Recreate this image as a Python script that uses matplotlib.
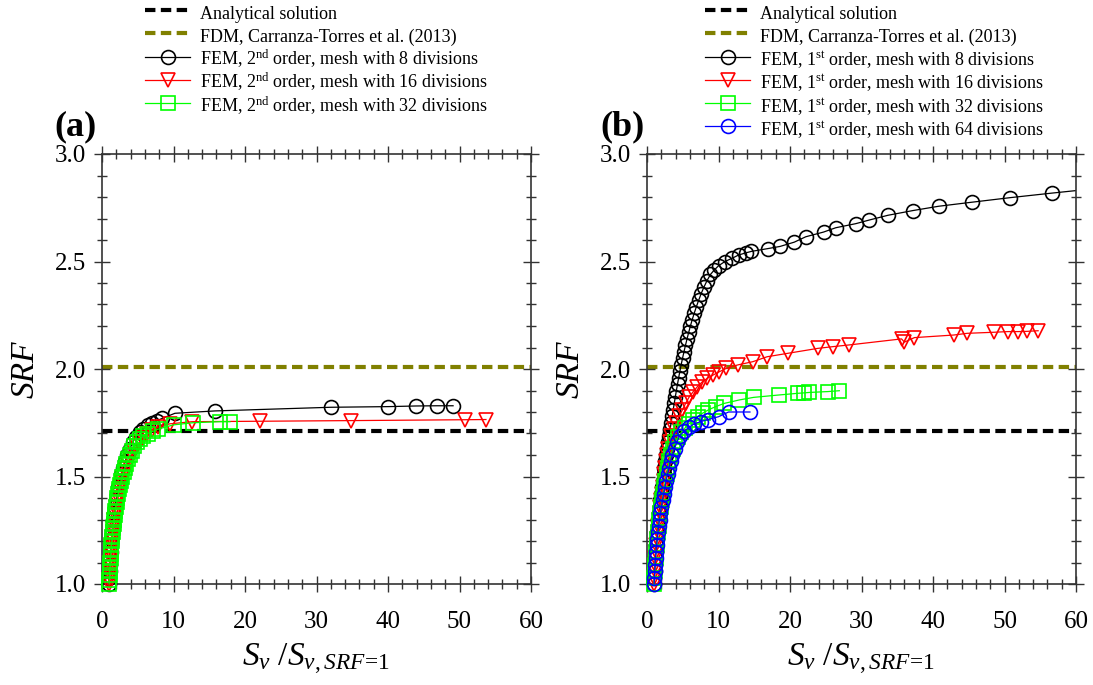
import matplotlib
matplotlib.use('Agg')
import matplotlib.pyplot as plt
from matplotlib.ticker import MultipleLocator, FormatStrFormatter
from matplotlib.lines import Line2D

plt.rcParams['font.family'] = ['Liberation Serif', 'DejaVu Serif']
plt.rcParams['mathtext.fontset'] = 'custom'
plt.rcParams['mathtext.rm'] = 'Liberation Serif'
plt.rcParams['mathtext.it'] = 'Liberation Serif:italic'
plt.rcParams['mathtext.bf'] = 'Liberation Serif:bold'

# reference values
analytical = 1.71
fdm = 2.01

# (a) FEM 2nd order
a8_x = [1.00, 1.03, 1.06, 1.10, 1.14, 1.19, 1.25, 1.32, 1.40, 1.49, 1.59, 1.70, 1.82, 1.96, 2.12,
        2.30, 2.50, 2.72, 2.97, 3.25, 3.56, 3.91, 4.30, 4.75, 5.25, 5.80, 6.40, 7.05, 7.70, 8.40,
        10.2, 15.8, 32.0, 40.0, 43.9, 46.8, 49.1]
a8_y = [1.00, 1.03, 1.06, 1.09, 1.12, 1.15, 1.18, 1.21, 1.24, 1.27, 1.30, 1.33, 1.36, 1.39, 1.42,
        1.45, 1.48, 1.51, 1.54, 1.57, 1.60, 1.63, 1.66, 1.685, 1.705, 1.722, 1.738, 1.750, 1.760, 1.770,
        1.794, 1.805, 1.822, 1.825, 1.828, 1.829, 1.829]

a16_x = [1.00, 1.03, 1.06, 1.09, 1.12, 1.16, 1.20, 1.24, 1.29, 1.34, 1.39, 1.45, 1.51, 1.58, 1.65,
         1.73, 1.82, 1.91, 2.01, 2.12, 2.24, 2.37, 2.51, 2.66, 2.82, 2.99, 3.18, 3.39, 3.62, 3.87,
         4.15, 4.47, 4.83, 5.25, 5.75, 6.35, 7.05, 7.90, 9.50, 12.6, 22.1, 34.8, 50.7, 53.7]
a16_y = [1.00, 1.02, 1.04, 1.06, 1.08, 1.10, 1.12, 1.14, 1.16, 1.18, 1.20, 1.22, 1.24, 1.26, 1.28,
         1.30, 1.32, 1.34, 1.36, 1.38, 1.40, 1.42, 1.44, 1.46, 1.48, 1.50, 1.52, 1.54, 1.56, 1.58,
         1.60, 1.62, 1.64, 1.66, 1.68, 1.70, 1.715, 1.73, 1.745, 1.755, 1.757, 1.760, 1.764, 1.765]

a32_x = [1.00, 1.03, 1.06, 1.09, 1.12, 1.15, 1.19, 1.23, 1.27, 1.32, 1.37, 1.42, 1.48, 1.54, 1.61,
         1.68, 1.76, 1.85, 1.94, 2.04, 2.15, 2.27, 2.40, 2.54, 2.69, 2.85, 3.02, 3.21, 3.42, 3.65,
         3.90, 4.18, 4.50, 4.86, 5.28, 5.78, 6.38, 7.10, 7.80, 10.0, 12.7, 16.5, 17.9]
a32_y = [1.00, 1.02, 1.04, 1.06, 1.08, 1.10, 1.12, 1.14, 1.16, 1.18, 1.20, 1.22, 1.24, 1.26, 1.28,
         1.30, 1.32, 1.34, 1.36, 1.38, 1.40, 1.42, 1.44, 1.46, 1.48, 1.50, 1.52, 1.54, 1.56, 1.58,
         1.60, 1.62, 1.64, 1.66, 1.675, 1.69, 1.70, 1.71, 1.72, 1.74, 1.75, 1.755, 1.755]

# (b) FEM 1st order
b8_x = [1.00, 1.03, 1.07, 1.11, 1.15, 1.20, 1.26, 1.33, 1.41, 1.49, 1.58, 1.67, 1.77, 1.87, 1.98,
        2.09, 2.20, 2.32, 2.44, 2.56, 2.69, 2.82, 2.95, 3.09, 3.23, 3.37, 3.51, 3.66, 3.81, 3.96,
        4.11, 4.27, 4.43, 4.60, 4.78, 4.97, 5.17, 5.38, 5.60, 5.83, 6.07, 6.33, 6.61, 6.91, 7.23,
        7.57, 7.95, 8.38, 8.88, 9.40, 10.0, 10.9, 11.9, 12.8, 13.8, 14.6, 16.9, 18.6, 20.6, 22.2,
        24.7, 26.4, 29.2, 31.1, 33.7, 37.2, 40.8, 45.5, 50.8, 56.6, 61.5]
b8_y = [1.00, 1.03, 1.06, 1.09, 1.12, 1.15, 1.18, 1.21, 1.24, 1.27, 1.30, 1.33, 1.36, 1.39, 1.42,
        1.45, 1.48, 1.51, 1.54, 1.57, 1.60, 1.63, 1.66, 1.69, 1.72, 1.75, 1.78, 1.81, 1.84, 1.87,
        1.90, 1.93, 1.96, 1.99, 2.02, 2.05, 2.08, 2.11, 2.14, 2.17, 2.20, 2.23, 2.26, 2.29, 2.32,
        2.35, 2.38, 2.41, 2.44, 2.46, 2.48, 2.50, 2.515, 2.53, 2.54, 2.547, 2.56, 2.57, 2.59, 2.615,
        2.637, 2.657, 2.676, 2.693, 2.715, 2.737, 2.757, 2.776, 2.797, 2.818, 2.835]

b16_x = [1.00, 1.04, 1.08, 1.13, 1.18, 1.24, 1.31, 1.39, 1.47, 1.56, 1.65, 1.75, 1.85, 1.96, 2.07,
         2.19, 2.31, 2.43, 2.56, 2.70, 2.80, 2.98, 3.17, 3.40, 3.75, 4.12, 4.50, 4.95, 5.40, 5.90,
         6.45, 7.05, 7.75, 8.45, 9.25, 10.1, 11.1, 12.7, 14.8, 16.8, 19.7, 23.9, 26.0, 28.3, 35.6,
         36.0, 37.4, 42.9, 44.8, 48.6, 50.5, 51.9, 53.1, 54.7]
b16_y = [1.00, 1.03, 1.06, 1.09, 1.12, 1.15, 1.18, 1.21, 1.24, 1.27, 1.30, 1.33, 1.36, 1.39, 1.42,
         1.45, 1.48, 1.51, 1.54, 1.57, 1.60, 1.63, 1.66, 1.69, 1.72, 1.75, 1.78, 1.81, 1.84, 1.87,
         1.894, 1.918, 1.941, 1.957, 1.972, 1.987, 2.003, 2.019, 2.034, 2.057, 2.073, 2.096, 2.104, 2.112, 2.140,
         2.125, 2.146, 2.158, 2.166, 2.171, 2.174, 2.174, 2.175, 2.178]

b32_x = [1.00, 1.04, 1.09, 1.14, 1.20, 1.27, 1.35, 1.44, 1.53, 1.63, 1.74, 1.86, 1.99, 2.12, 2.26,
         2.41, 2.57, 2.74, 2.92, 3.11, 3.32, 3.60, 3.95, 4.35, 4.80, 5.30, 5.85, 6.45, 7.10, 7.80,
         8.60, 9.60, 10.8, 12.9, 14.9, 18.4, 21.1, 22.0, 22.7, 25.3, 26.9]
b32_y = [1.00, 1.03, 1.06, 1.09, 1.12, 1.15, 1.18, 1.21, 1.24, 1.27, 1.30, 1.33, 1.36, 1.39, 1.42,
         1.45, 1.48, 1.51, 1.54, 1.57, 1.60, 1.63, 1.66, 1.685, 1.705, 1.725, 1.745, 1.762, 1.778, 1.795,
         1.810, 1.825, 1.840, 1.856, 1.868, 1.879, 1.887, 1.889, 1.891, 1.895, 1.899]

b64_x = [1.00, 1.03, 1.08, 1.13, 1.19, 1.26, 1.34, 1.43, 1.53, 1.63, 1.75, 1.88, 2.02, 2.17, 2.33,
         2.50, 2.68, 2.87, 3.07, 3.30, 3.55, 3.85, 4.20, 4.55, 5.20, 5.90, 6.60, 7.50, 8.50, 10.0,
         11.4, 14.4]
b64_y = [1.00, 1.03, 1.06, 1.09, 1.12, 1.15, 1.18, 1.21, 1.24, 1.27, 1.30, 1.33, 1.36, 1.39, 1.42,
         1.45, 1.48, 1.51, 1.54, 1.57, 1.60, 1.63, 1.66, 1.69, 1.71, 1.73, 1.745, 1.755, 1.765, 1.778,
         1.80, 1.80]

labels_a = ['Analytical solution', 'FDM, Carranza-Torres et al. (2013)',
            'FEM, 2$^{\\rm nd}$ order, mesh with 8 divisions',
            'FEM, 2$^{\\rm nd}$ order, mesh with 16 divisions',
            'FEM, 2$^{\\rm nd}$ order, mesh with 32 divisions']
labels_b = ['Analytical solution', 'FDM, Carranza-Torres et al. (2013)',
            'FEM, 1$^{\\rm st}$ order, mesh with 8 divisions',
            'FEM, 1$^{\\rm st}$ order, mesh with 16 divisions',
            'FEM, 1$^{\\rm st}$ order, mesh with 32 divisions',
            'FEM, 1$^{\\rm st}$ order, mesh with 64 divisions']

styles = [('black', 'o', 10), ('red', 'v', 10), ('#00ff00', 's', 9.5), ('blue', 'o', 10)]

fig = plt.figure(figsize=(10.93, 6.85), dpi=100)
ax1 = fig.add_axes([102/1093, 1-584/685, 429/1093, 430/685])
ax2 = fig.add_axes([647/1093, 1-584/685, 429/1093, 430/685])


def proxy(c, m, ms):
    return Line2D([], [], color=c, lw=0.9, marker=m, ms=ms, mfc='none', mec=c, mew=1.2)


def draw(ax, series, labels, leg_x, tag, tag_x):
    h1 = ax.axhline(analytical, color='black', lw=3, ls=(0, (2.5, 1.3)), zorder=1)
    h2 = ax.axhline(fdm, color='#808000', lw=3, ls=(0, (2.5, 1.3)), zorder=1)
    handles = [h1, h2]
    for (x, y), (c, m, ms) in zip(series, styles):
        if x[-1] > 60:
            # line runs out of the frame, keep markers inside
            ax.plot(x, y, color=c, lw=0.9, zorder=2)
            ax.plot(x[:-1], y[:-1], ls='none', marker=m, ms=ms, mfc='none', mec=c,
                    mew=1.2, clip_on=False, zorder=3)
        else:
            ax.plot(x, y, color=c, lw=0.9, marker=m, ms=ms, mfc='none', mec=c,
                    mew=1.2, clip_on=False, zorder=3)
        handles.append(proxy(c, m, ms))
    ax.set_xlim(0, 60)
    ax.set_ylim(1.0, 3.0)
    ax.xaxis.set_major_locator(MultipleLocator(10))
    ax.xaxis.set_minor_locator(MultipleLocator(2))
    ax.yaxis.set_major_locator(MultipleLocator(0.5))
    ax.yaxis.set_minor_locator(MultipleLocator(0.1))
    ax.yaxis.set_major_formatter(FormatStrFormatter('%.1f'))
    ax.tick_params(which='both', direction='inout', top=True, right=True,
                   color='#333333', labelsize=18, width=1)
    ax.tick_params(which='major', length=11)
    ax.tick_params(which='minor', length=7)
    ax.tick_params(axis='x', pad=14)
    ax.tick_params(axis='y', pad=6)
    for s in ax.spines.values():
        s.set_color('#333333')
        s.set_linewidth(1.2)
    ax.set_ylabel('SRF', fontstyle='italic', fontsize=24, labelpad=10)
    ax.set_xlabel(r'$S_v\ /S_{v,SRF\!=\!\mathit{1}}$', fontsize=24, labelpad=6)
    ax.legend(handles, labels, loc='upper left', bbox_to_anchor=(leg_x, 0.998),
              bbox_transform=fig.transFigure, frameon=False, fontsize=13,
              handlelength=2.5, handletextpad=0.55, labelspacing=0.0, handleheight=1.6,
              borderpad=0, borderaxespad=0, numpoints=1)
    fig.text(tag_x, 1-127/685, tag, ha='center', va='center', fontsize=26, fontweight='bold')


draw(ax1, [(a8_x, a8_y), (a16_x, a16_y), (a32_x, a32_y)], labels_a, 145/1093, '(a)', 76/1093)
draw(ax2, [(b8_x, b8_y), (b16_x, b16_y), (b32_x, b32_y), (b64_x, b64_y)], labels_b, 705/1093, '(b)', 622/1093)

plt.savefig('out.png', dpi=100)
